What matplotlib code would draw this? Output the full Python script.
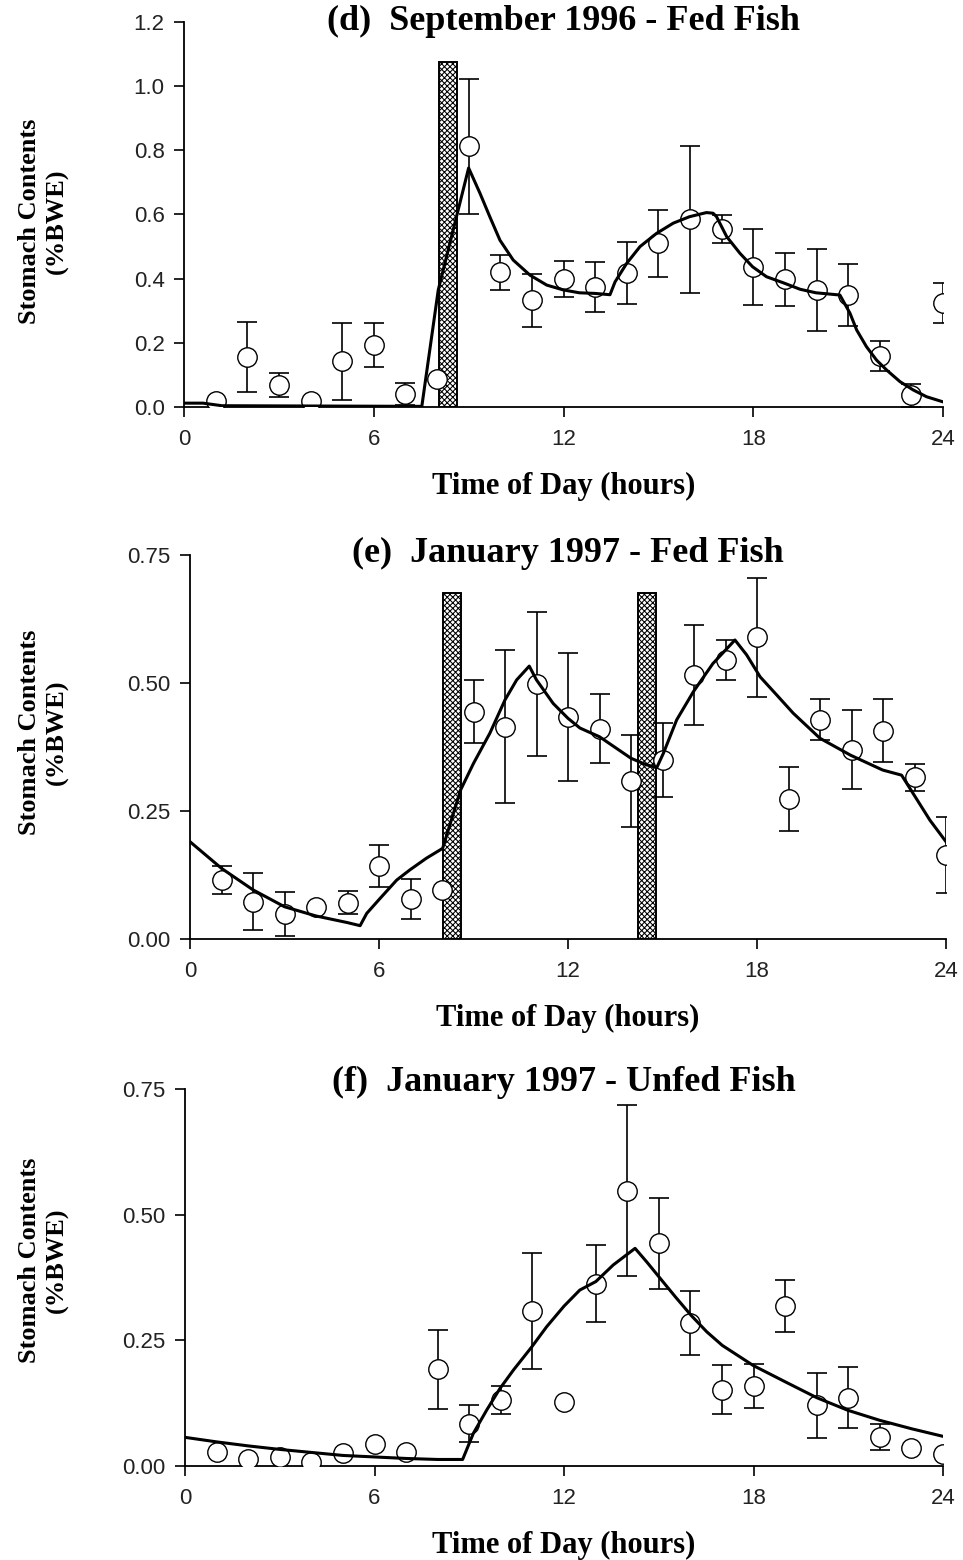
import numpy as np
import matplotlib
matplotlib.use('Agg')
import matplotlib.pyplot as plt

plt.rcParams['hatch.linewidth'] = 0.75

hours = np.arange(1, 25)

# (d) September 1996 - fed fish, mean stomach contents and SE
sep_mean = [0.02, 0.156, 0.069, 0.02, 0.143, 0.193, 0.04, 0.087, 0.813, 0.42, 0.333, 0.40,
            0.374, 0.417, 0.51, 0.585, 0.554, 0.437, 0.398, 0.365, 0.349, 0.16, 0.037, 0.324]
sep_se = [0.0, 0.11, 0.037, 0.0, 0.12, 0.068, 0.035, 0.0, 0.21, 0.054, 0.083, 0.056,
          0.077, 0.096, 0.105, 0.23, 0.044, 0.118, 0.082, 0.128, 0.097, 0.047, 0.036, 0.062]
sep_fit_t = [0, 0.6, 1.2, 7.52, 8.04, 9.0, 9.36, 9.67, 9.99, 10.41, 10.94, 11.47, 11.99, 12.5,
             13.0, 13.47, 13.63, 14.0, 14.42, 14.94, 15.47, 15.98, 16.52, 16.73, 16.84, 17.16,
             17.58, 17.98, 18.42, 18.98, 19.48, 19.98, 20.74, 21.06, 21.27, 21.58, 21.9, 22.22,
             22.64, 23.06, 23.48, 24.0]
sep_fit = [0.012, 0.012, 0.004, 0.002, 0.365, 0.745, 0.666, 0.593, 0.52, 0.458, 0.411, 0.38,
           0.365, 0.356, 0.354, 0.35, 0.39, 0.448, 0.50, 0.541, 0.573, 0.593, 0.606, 0.604,
           0.593, 0.531, 0.479, 0.437, 0.406, 0.386, 0.367, 0.356, 0.349, 0.292, 0.24, 0.188,
           0.146, 0.115, 0.079, 0.053, 0.032, 0.016]
sep_feed_start = [8.05]
sep_feed_len = [0.57]
sep_feed_top = 1.075

# (e) January 1997 - fed fish
jan_mean = [0.115, 0.073, 0.048, 0.063, 0.071, 0.143, 0.078, 0.096, 0.444, 0.415, 0.498, 0.434,
            0.411, 0.309, 0.35, 0.516, 0.545, 0.589, 0.273, 0.428, 0.37, 0.407, 0.316, 0.164]
jan_se = [0.027, 0.056, 0.043, 0.0, 0.022, 0.041, 0.039, 0.0, 0.062, 0.15, 0.14, 0.125,
          0.068, 0.09, 0.072, 0.098, 0.039, 0.116, 0.063, 0.04, 0.078, 0.062, 0.026, 0.074]
jan_fit_t = [0, 1, 2, 3, 4, 5, 5.4, 5.61, 6.03, 6.56, 6.98, 7.51, 8.02, 8.59, 9.0, 9.52, 10.0,
             10.37, 10.77, 11.0, 11.53, 12.0, 12.38, 13.0, 14.0, 14.5, 14.82, 15.03, 15.45,
             15.98, 16.6, 17.3, 17.67, 18.1, 18.62, 19.15, 20.0, 20.97, 21.99, 22.59, 23.02,
             23.49, 24.0]
jan_fit = [0.19, 0.138, 0.096, 0.063, 0.045, 0.032, 0.026, 0.05, 0.079, 0.115, 0.135, 0.158,
           0.177, 0.291, 0.343, 0.402, 0.467, 0.506, 0.533, 0.506, 0.46, 0.431, 0.412, 0.395,
           0.353, 0.34, 0.335, 0.363, 0.428, 0.483, 0.538, 0.584, 0.555, 0.512, 0.477, 0.441,
           0.392, 0.359, 0.33, 0.32, 0.278, 0.232, 0.19]
jan_feed_start = [8.04, 14.23]
jan_feed_len = [0.55, 0.56]
jan_feed_top = 0.676

# (f) January 1997 - unfed fish
unfed_mean = [0.028, 0.013, 0.018, 0.008, 0.025, 0.043, 0.028, 0.192, 0.084, 0.132, 0.308, 0.128,
              0.363, 0.548, 0.443, 0.284, 0.152, 0.159, 0.318, 0.121, 0.136, 0.058, 0.036, 0.023]
unfed_se = [0.0, 0.0, 0.0, 0.0, 0.0, 0.0, 0.0, 0.079, 0.037, 0.028, 0.115, 0.0,
            0.077, 0.171, 0.09, 0.064, 0.048, 0.044, 0.052, 0.065, 0.061, 0.026, 0.0, 0.0]
unfed_fit_t = [0, 1, 2, 3, 4, 5, 6, 7, 8, 8.79, 9.13, 9.55, 9.97, 10.4, 10.98, 11.45, 12.0,
               12.5, 13.01, 13.56, 14.25, 14.62, 15.01, 15.52, 16.02, 16.52, 17.01, 17.99,
               19.02, 20.0, 20.98, 21.99, 23.01, 24.0]
unfed_fit = [0.057, 0.048, 0.04, 0.033, 0.027, 0.021, 0.018, 0.015, 0.013, 0.013, 0.065, 0.111,
             0.154, 0.191, 0.237, 0.277, 0.318, 0.35, 0.367, 0.40, 0.433, 0.406, 0.376, 0.337,
             0.30, 0.267, 0.24, 0.20, 0.167, 0.136, 0.111, 0.091, 0.074, 0.059]

panels = [
    # title, mean, se, fit_t, fit, feeds, feed_len, feed_top, yticks, ticklabels, axes box (px), ylabel y, title y
    ('(d)  September 1996 - Fed Fish', sep_mean, sep_se, sep_fit_t, sep_fit,
     sep_feed_start, sep_feed_len, sep_feed_top,
     [0, 0.2, 0.4, 0.6, 0.8, 1.0, 1.2], ['0.0', '0.2', '0.4', '0.6', '0.8', '1.0', '1.2'],
     [184, 22, 943, 407], 221, 21),
    ('(e)  January 1997 - Fed Fish', jan_mean, jan_se, jan_fit_t, jan_fit,
     jan_feed_start, jan_feed_len, jan_feed_top,
     [0, 0.25, 0.5, 0.75], ['0.00', '0.25', '0.50', '0.75'],
     [190, 555, 946, 939], 732, 553),
    ('(f)  January 1997 - Unfed Fish', unfed_mean, unfed_se, unfed_fit_t, unfed_fit,
     [], [], 0,
     [0, 0.25, 0.5, 0.75], ['0.00', '0.25', '0.50', '0.75'],
     [185, 1089, 943, 1466], 1260, 1082),
]

W, H = 963, 1560
fig = plt.figure(figsize=(W / 100, H / 100), dpi=100)

serif = 'Liberation Serif'
sans = 'Liberation Sans'

for (title, mean, se, fit_t, fit, feeds, feed_len, feed_top, yticks, ylabels,
     box, ylab_y, title_y) in panels:
    x0, y0, x1, y1 = box
    ax = fig.add_axes([x0 / W, 1 - y1 / H, (x1 - x0) / W, (y1 - y0) / H])

    # feeding periods
    for start, length in zip(feeds, feed_len):
        ax.bar(start, feed_top, width=length, align='edge', facecolor='white',
               edgecolor='black', hatch='xxxxxx', linewidth=1.4, zorder=1)

    mean = np.array(mean)
    se = np.array(se)
    has_err = se > 0
    ax.errorbar(hours[has_err], mean[has_err], yerr=se[has_err], fmt='none',
                ecolor='black', elinewidth=1.2, capsize=7.5, capthick=1.2, zorder=2)
    ax.plot(hours, mean, 'o', ms=14, mfc='white', mec='black', mew=1.0, zorder=3)

    # model fit
    ax.plot(fit_t, fit, color='black', lw=2.2, zorder=4)

    ax.set_xlim(0, 24)
    ax.set_ylim(0, yticks[-1])
    ax.set_xticks([0, 6, 12, 18, 24])
    ax.set_xticklabels(['0', '6', '12', '18', '24'], fontfamily=sans, fontsize=16, color='#222222')
    ax.set_yticks(yticks)
    ax.set_yticklabels(ylabels, fontfamily=sans, fontsize=16, color='#222222')
    ax.tick_params(direction='out', length=7, width=1.2, pad=7)
    ax.tick_params(axis='x', pad=9)
    for side in ['top', 'right']:
        ax.spines[side].set_visible(False)
    for side in ['left', 'bottom']:
        ax.spines[side].set_linewidth(1.3)
    ax.patch.set_alpha(0)

    fig.text((x0 + x1) / 2 / W, 1 - title_y / H, title, ha='center', va='center',
             fontfamily=serif, fontweight='bold', fontsize=26)
    fig.text((x0 + x1) / 2 / W, 1 - (y1 + 79) / H, 'Time of Day (hours)', ha='center',
             va='center', fontfamily=serif, fontweight='bold', fontsize=22)
    fig.text(43 / W, 1 - ylab_y / H, 'Stomach Contents\n(%BWE)', ha='center', va='center',
             rotation=90, multialignment='center', linespacing=1.25,
             fontfamily=serif, fontweight='bold', fontsize=19)

fig.savefig('out.png', dpi=100)
